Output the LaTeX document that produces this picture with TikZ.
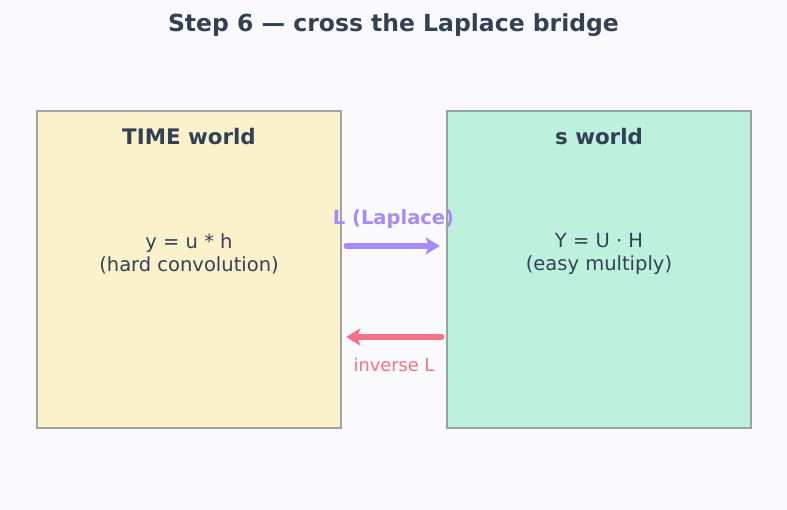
\documentclass[tikz,border=0pt]{standalone}
\usepackage{fontspec}
\setmainfont{DejaVu Sans}
\usetikzlibrary{arrows.meta}
\definecolor{bg}{HTML}{FAFAFD}
\definecolor{ink}{HTML}{334155}
\definecolor{timefill}{HTML}{FBF2CC}
\definecolor{timeedge}{HTML}{A3A3A3}
\definecolor{sfill}{HTML}{BDF0DD}
\definecolor{sedge}{HTML}{95A5A0}
\definecolor{lap}{HTML}{A78BFA}
\definecolor{inv}{HTML}{F47284}
\tikzset{
  world/.style={draw, line width=2.5pt, minimum width=304pt, minimum height=317pt, inner sep=0pt},
  boxtitle/.style={font=\fontsize{21.4}{25}\selectfont\bfseries, text=ink},
  body/.style={font=\fontsize{19.5}{23}\selectfont, text=ink, align=center},
  bridge/.style={line width=5.5pt, line cap=round, -{Stealth[length=14pt,width=17pt,inset=3pt]}},
}
\begin{document}
\begin{tikzpicture}[x=1pt,y=1pt]
\fill[bg] (0,0) rectangle (787,-510);
\useasboundingbox (0,0) rectangle (787,-510);
\node[font=\fontsize{23.5}{28}\selectfont\bfseries, text=ink] (title) at (393.5,-25.5) {Step 6 — cross the Laplace bridge};
\node[world, fill=timefill, draw=timeedge] (time) at (189,-269.5) {};
\node[world, fill=sfill, draw=sedge] (sw) at (599,-269.5) {};
\node[boxtitle] (timet) at (189,-137) {TIME world};
\node[boxtitle] (swt) at (599,-137) {s world};
\node[body] (timeb) at (189,-254) {y = u * h\\(hard convolution)};
\node[body] (swb) at (599,-254) {Y = U · H\\(easy multiply)};
\draw[bridge, draw=lap, fill=lap, shorten <=4pt, shorten >=6pt] ([yshift=23.5pt]time.east) -- ([yshift=23.5pt]sw.west);
\draw[bridge, draw=inv, fill=inv, shorten <=4pt, shorten >=4pt] ([yshift=-67.5pt]sw.west) -- ([yshift=-67.5pt]time.east);
\node[font=\fontsize{19.5}{23}\selectfont\bfseries, text=lap] (lapl) at (393.5,-219.5) {L (Laplace)};
\node[font=\fontsize{17.8}{21}\selectfont, text=inv] (invl) at (394,-365) {inverse L};
\end{tikzpicture}
\end{document}
